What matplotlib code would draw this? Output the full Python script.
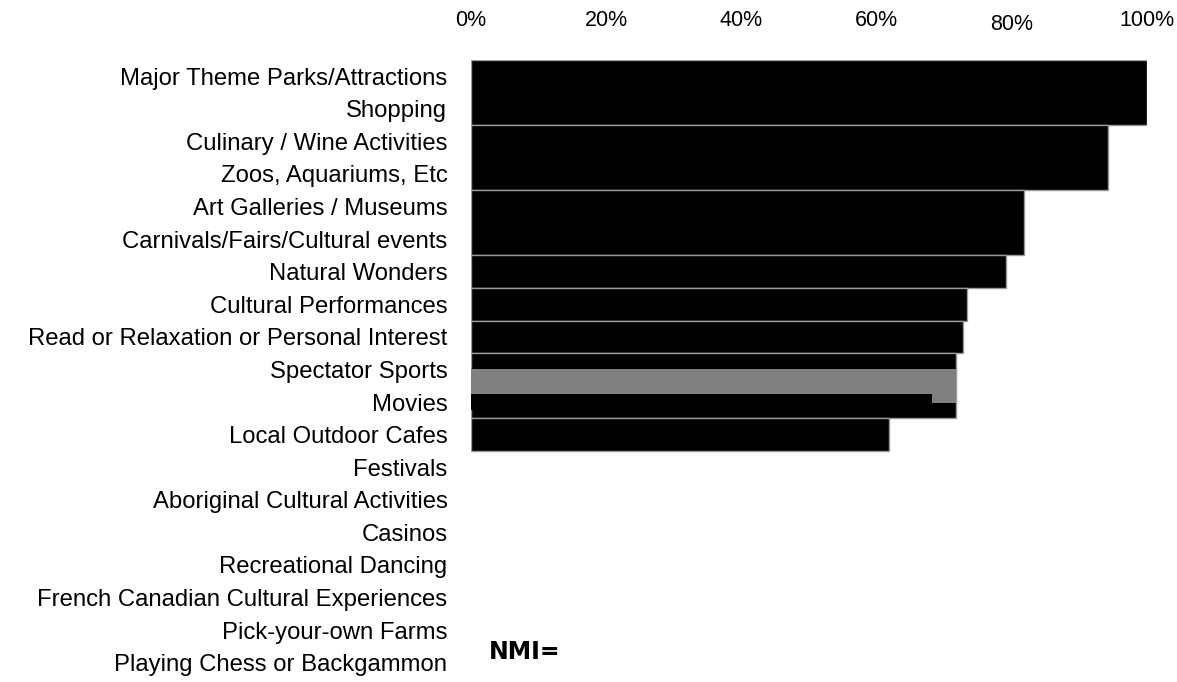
import numpy as np
import matplotlib
matplotlib.use("Agg")
import matplotlib.pyplot as plt
from matplotlib.transforms import ScaledTranslation

plt.rcParams['font.family'] = ['Liberation Sans', 'DejaVu Sans']

categories = [
    "Major Theme Parks/Attractions",
    "Shopping",
    "Culinary / Wine Activities",
    "Zoos, Aquariums, Etc",
    "Art Galleries / Museums",
    "Carnivals/Fairs/Cultural events",
    "Natural Wonders",
    "Cultural Performances",
    "Read or Relaxation or Personal Interest",
    "Spectator Sports",
    "Movies",
    "Local Outdoor Cafes",
    "Festivals",
    "Aboriginal Cultural Activities",
    "Casinos",
    "Recreational Dancing",
    "French Canadian Cultural Experiences",
    "Pick-your-own Farms",
    "Playing Chess or Backgammon",
]
values = [100, 100, 94.2, 94.2, 81.8, 81.8, 79.1, 73.4, 72.8, 71.7, 71.7, 61.8,
          np.nan, np.nan, np.nan, np.nan, np.nan, np.nan, np.nan]
highlight_value = 71.7      # grey bar between Spectator Sports and Movies
notch_value = 68.2          # black bar overlapping the grey one (Movies)
tick_values = [0, 20, 40, 60, 80, 100]
tick_labels = ["0%", "20%", "40%", "60%", "80%", "100%"]
annotation = "NMI="

W, H = 1177, 682
fig = plt.figure(figsize=(W / 100, H / 100), dpi=100)
top_px, bot_px = 59.7, 679.1
ax = fig.add_axes([471 / W, 1 - bot_px / H, 676 / W, (bot_px - top_px) / H])

n = len(categories)
# group consecutive equal values into merged bars
i = 0
while i < n:
    v = values[i]
    if np.isnan(v):
        i += 1
        continue
    j = i
    while j + 1 < n and values[j + 1] == v:
        j += 1
    ax.barh((i + j) / 2, v, height=(j - i + 1), color="black",
            edgecolor="#9a9a9a", linewidth=1.0, zorder=2)
    i = j + 1

ax.barh(9.5, highlight_value, height=1.04, color="#808080", linewidth=0, zorder=3)
ax.barh(10.0, notch_value, height=0.5, color="black", linewidth=0, zorder=4)

ax.set_xlim(0, 100)
ax.set_ylim(n - 0.5, -0.5)
ax.set_yticks(range(n))
ax.set_yticklabels(categories, fontsize=17.2)
ax.set_xticks(tick_values)
ax.set_xticklabels(tick_labels, fontsize=15.5)
ax.xaxis.tick_top()
ax.tick_params(axis="y", length=0, pad=17)
ax.tick_params(axis="x", length=0, pad=21)
for s in ax.spines.values():
    s.set_visible(False)

lbl = ax.get_xticklabels()[4]
lbl.set_transform(lbl.get_transform() + ScaledTranslation(0, -4 / 100, fig.dpi_scale_trans))

fig.text(489 / W, 1 - 652 / H, annotation, fontsize=17, fontweight="bold",
         family="DejaVu Sans", ha="left", va="center")

fig.savefig("out.png", dpi=100)
